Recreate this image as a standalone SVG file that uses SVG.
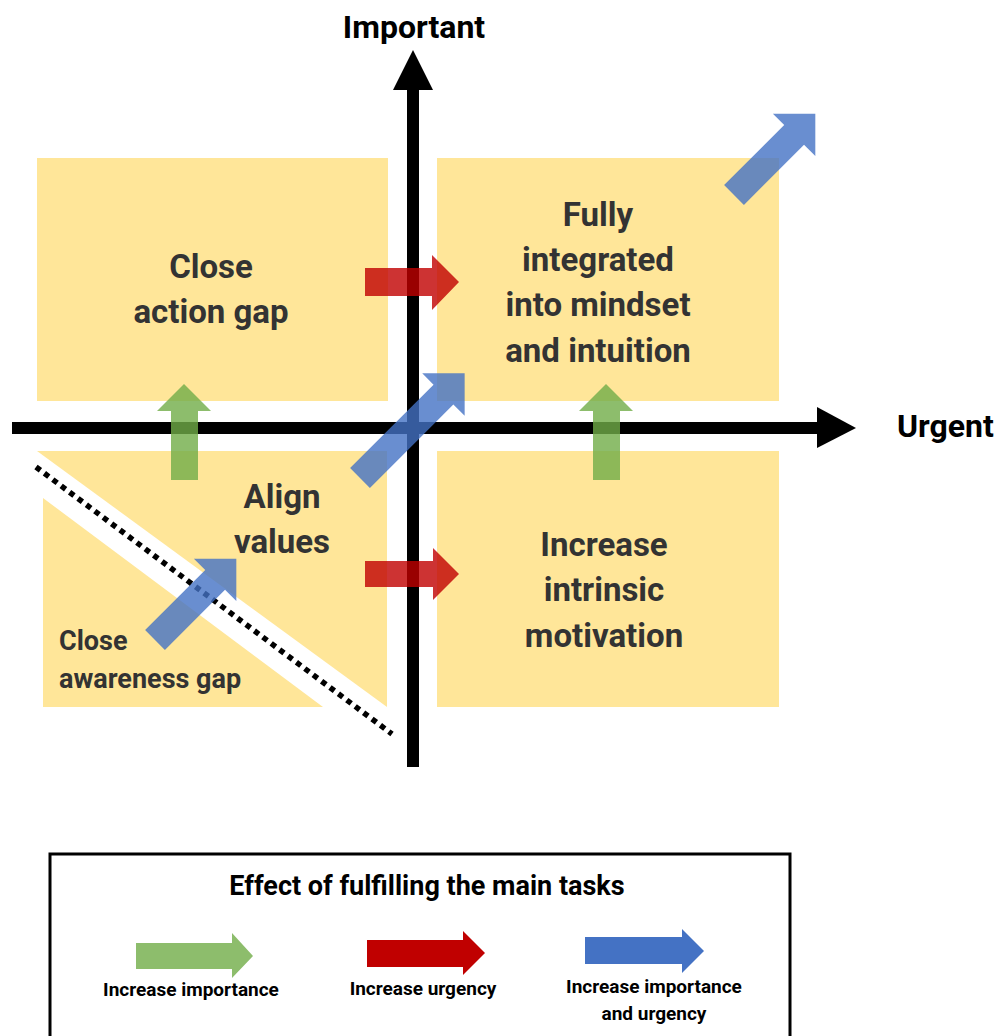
<svg xmlns="http://www.w3.org/2000/svg" width="1002" height="1036" viewBox="0 0 1002 1036">
<style>
.q{fill:#FFE699}
.t{font-family:Roboto,"Liberation Sans",sans-serif;font-weight:bold}
.ql{font-size:33px;fill:#333333;text-anchor:middle}
.ax{font-size:32px;fill:#000}
.lg{font-size:19px;fill:#000;text-anchor:middle}
.g{fill:#70AD47;fill-opacity:0.8}
.r{fill:#C00000;fill-opacity:0.8}
.b{fill:#4472C4;fill-opacity:0.8}
</style>
<defs>
<path id="ba148" d="M0,-14 H118 V-30 L148,0 L118,30 V14 H0 Z"/>
<path id="ba115" d="M0,-14 H85 V-30 L115,0 L85,30 V14 H0 Z"/>
</defs>
<rect width="1002" height="1036" fill="#fff"/>

<g id="quadrant-top-left">
<rect class="q" x="37" y="158" width="351" height="243"/>
<text class="t ql" x="211" y="278">Close</text>
<text class="t ql" x="211" y="323">action gap</text>
</g>
<g id="quadrant-top-right">
<rect class="q" x="437" y="158" width="342" height="243"/>
<text class="t ql" x="598" y="226">Fully</text>
<text class="t ql" x="598" y="271">integrated</text>
<text class="t ql" x="598" y="316">into mindset</text>
<text class="t ql" x="598" y="362">and intuition</text>
</g>
<g id="quadrant-bottom-right">
<rect class="q" x="437" y="451" width="342" height="256"/>
<text class="t ql" x="604" y="556">Increase</text>
<text class="t ql" x="604" y="601">intrinsic</text>
<text class="t ql" x="604" y="647">motivation</text>
</g>
<g id="quadrant-bottom-left">
<polygon class="q" points="37,451 387,451 387,707"/>
<polygon class="q" points="43,498 43,707 323,707"/>
<line x1="36" y1="467" x2="392" y2="734" stroke="#000" stroke-width="5.5" stroke-dasharray="5.5 5"/>
<text class="t ql" x="282" y="508">Align</text>
<text class="t ql" x="282" y="553">values</text>
<text class="t" x="59" y="650" font-size="27" fill="#333333">Close</text>
<text class="t" x="59" y="688" font-size="27" fill="#333333">awareness gap</text>
</g>

<g id="axes">
<line x1="12" y1="428" x2="820" y2="428" stroke="#000" stroke-width="12"/>
<polygon points="817,407 856,428 817,448" fill="#000"/>
<line x1="413" y1="767" x2="413" y2="86" stroke="#000" stroke-width="12"/>
<polygon points="393,90 413,50 433,90" fill="#000"/>
<text class="t ax" x="414" y="38" text-anchor="middle">Important</text>
<text class="t ax" x="897" y="437" font-size="31">Urgent</text>
</g>

<g id="connectors">
<path class="g" d="M171,480 V411 H157 L184,384 L211,411 H198 V480 Z"/>
<path class="g" d="M593,480 V411 H579 L606,384 L633,411 H620 V480 Z"/>
<path class="r" d="M365,268 H432 V255 L459,282 L432,310 V296 H365 Z"/>
<path class="r" d="M365,561 H433 V548 L459,574 L433,600 V587 H365 Z"/>
<use class="b" href="#ba148" transform="translate(360,478) rotate(-45)"/>
<use class="b" href="#ba115" transform="translate(734,195) rotate(-45)"/>
<use class="b" href="#ba115" transform="translate(155,640) rotate(-45)"/>
</g>

<g id="legend">
<rect x="50" y="854" width="740" height="200" fill="none" stroke="#000" stroke-width="3"/>
<text class="t" x="427" y="895" font-size="27" text-anchor="middle">Effect of fulfilling the main tasks</text>
<path d="M136,943 H232 V933 L253,956 L232,978 V969 H136 Z" fill="#8DBD6C"/>
<path d="M367,940 H463 V931 L485,953 L463,975 V967 H367 Z" fill="#C00000"/>
<path d="M585,937 H682 V929 L704,951 L682,973 V964 H585 Z" fill="#4472C4"/>
<text class="t lg" x="191" y="996">Increase importance</text>
<text class="t lg" x="423" y="995">Increase urgency</text>
<text class="t lg" x="654" y="993">Increase importance</text>
<text class="t lg" x="654" y="1020">and urgency</text>
</g>
</svg>
